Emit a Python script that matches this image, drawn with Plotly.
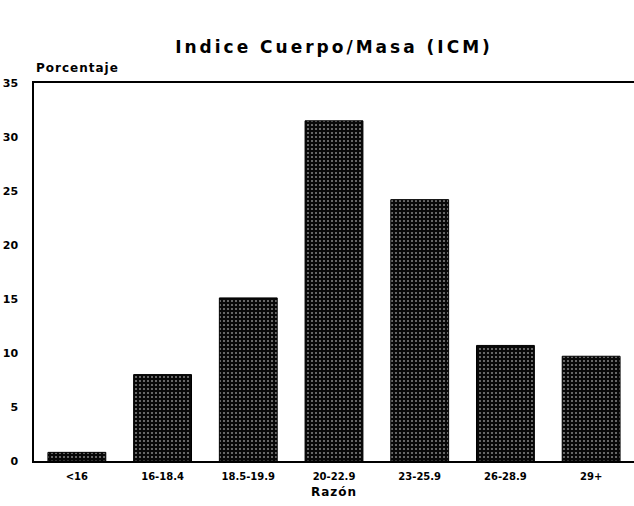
import plotly.graph_objects as go

categories = ["<16", "16-18.4", "18.5-19.9", "20-22.9", "23-25.9", "26-28.9", "29+"]
porcentaje = [0.8, 8.0, 15.1, 31.5, 24.2, 10.7, 9.7]
y_ticks = [0, 5, 10, 15, 20, 25, 30, 35]

FONT = "DejaVu Sans"


def spaced(text, px):
    return f'<span style="letter-spacing:{px}px">{text}</span>'


fig = go.Figure(
    go.Bar(
        x=categories,
        y=porcentaje,
        width=0.675,
        marker=dict(
            color="#080808",
            line=dict(color="black", width=1),
            pattern=dict(shape=".", fgcolor="#f4f4f4", fillmode="overlay",
                         size=4, solidity=0.22),
        ),
    )
)

fig.update_layout(
    width=634,
    height=506,
    margin=dict(l=34, r=0, t=83, b=45),
    paper_bgcolor="white",
    plot_bgcolor="white",
    showlegend=False,
    font=dict(family=FONT, color="black", size=10, weight="bold"),
    title=dict(
        text=spaced("Indice Cuerpo/Masa (ICM)", 3),
        x=0.5, xref="paper", xanchor="center",
        y=1 - 47 / 506, yref="container", yanchor="middle",
        font=dict(family=FONT, size=17, weight="bold", color="black"),
    ),
)

fig.update_xaxes(
    range=[-0.5, 6.5],
    showline=True, linecolor="black", linewidth=1.5, mirror=True,
    showgrid=False, ticks="", ticklabelstandoff=5,
    tickfont=dict(family=FONT, size=10, weight="bold"),
    title=dict(text=spaced("Razón", 1), standoff=7,
               font=dict(family=FONT, size=12, weight="bold")),
)

fig.update_yaxes(
    range=[0, 35],
    tickvals=y_ticks,
    showline=True, linecolor="black", linewidth=1.5,
    showgrid=False, zeroline=False, ticks="", ticklabelstandoff=12,
    tickfont=dict(family=FONT, size=11, weight="bold"),
)

fig.add_annotation(
    text=spaced("Porcentaje", 1), xref="paper", yref="paper",
    x=0, y=1, xanchor="left", yanchor="bottom", yshift=6, showarrow=False,
    font=dict(family=FONT, size=12, weight="bold"),
)

fig.write_html("out.html")
